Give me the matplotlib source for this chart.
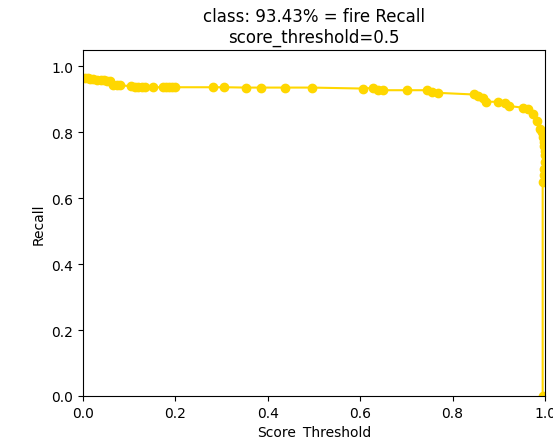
import matplotlib
matplotlib.use('Agg')
import matplotlib.pyplot as plt

# recall at each score threshold for the "fire" class
thresholds = [0.004, 0.010, 0.016, 0.022, 0.030, 0.038, 0.045, 0.052, 0.058,
              0.066, 0.073, 0.081, 0.104, 0.112, 0.120, 0.128, 0.134, 0.151,
              0.173, 0.180, 0.187, 0.193, 0.199, 0.281, 0.306, 0.353, 0.385,
              0.437, 0.495, 0.607, 0.628, 0.639, 0.650, 0.701, 0.745, 0.755,
              0.769, 0.846, 0.855, 0.866, 0.873, 0.898, 0.913, 0.923, 0.952,
              0.964, 0.975, 0.982, 0.989, 0.993, 0.995, 0.997, 0.998,
              0.999, 1.0, 0.999, 0.998, 0.997, 0.995, 0.995]
recall = [0.964, 0.964, 0.963, 0.962, 0.960, 0.958, 0.958, 0.957, 0.955,
          0.945, 0.943, 0.943, 0.940, 0.938, 0.937, 0.937, 0.937, 0.937,
          0.937, 0.937, 0.937, 0.937, 0.937, 0.937, 0.937, 0.936, 0.936,
          0.936, 0.936, 0.933, 0.935, 0.928, 0.928, 0.928, 0.928, 0.923,
          0.920, 0.915, 0.910, 0.905, 0.893, 0.893, 0.889, 0.880, 0.875,
          0.870, 0.855, 0.835, 0.810, 0.800, 0.785, 0.770, 0.760,
          0.745, 0.730, 0.710, 0.690, 0.670, 0.650, 0.0]

fig = plt.figure(figsize=(5.53, 4.39), dpi=100)
ax = fig.add_axes([0.150, 0.0957, 0.8355, 0.7881])
ax.plot(thresholds, recall, '-o', color='gold')
ax.set_title('class: 93.43% = fire Recall\nscore_threshold=0.5')
ax.set_xlabel('Score_Threshold')
ax.set_ylabel('Recall')
ax.set_xlim(0.0, 1.0)
ax.set_ylim(0.0, 1.05)
fig.savefig('out.png', dpi=100)
